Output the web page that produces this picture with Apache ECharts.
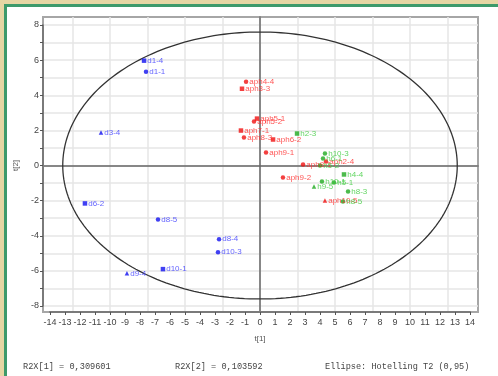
<!DOCTYPE html>
<html>
<head>
<meta charset="utf-8">
<script src="https://cdn.jsdelivr.net/npm/echarts@6/dist/echarts.min.js"></script>
<style>
  html, body { margin:0; padding:0; width:498px; height:376px; overflow:hidden; background:#e6d6a4; }
  #panel { position:absolute; left:4px; top:4px; right:0; bottom:0; background:#ffffff;
           border-left:3px solid #3d9a6b; border-top:3px solid #3d9a6b; }
  #chart { position:absolute; left:0; top:0; width:498px; height:376px; }
</style>
</head>
<body>
<div id="panel"></div>
<div id="chart"></div>
<script>
// ---- data ----
const blueNames = ['d1-4','d1-1','d3-4','d6-2','d8-5','d8-4','d10-3','d10-1','d9-4'];
const blueX = [-7.73,-7.6,-10.6,-11.67,-6.8,-2.73,-2.8,-6.47,-8.87];
const blueY = [5.97,5.34,1.88,-2.16,-3.07,-4.2,-4.94,-5.9,-6.14];

const redNames = ['aph4-4','aph3-3','aph5-1','aph5-2','aph7-1','aph8-3','aph6-2','aph9-1','aph8-1','aph2-4','aph9-2','aph10-5'];
const redX = [-0.93,-1.2,-0.2,-0.4,-1.27,-1.07,0.87,0.4,2.87,4.4,1.53,4.33];
const redY = [4.77,4.37,2.67,2.5,1.99,1.59,1.48,0.74,0.06,0.23,-0.68,-1.99];

const greenNames = ['h2-3','h10-3','h6-1','h5-2','h4-4','h10-1','h9-5','h5-1','h8-3','h8-5'];
const greenX = [2.47,4.33,4.2,4.0,5.6,4.13,3.6,4.93,5.87,5.53];
const greenY = [1.82,0.68,0.4,0.0,-0.51,-0.91,-1.19,-0.97,-1.48,-2.05];

const triangleNames = ['d3-4','d9-4','aph10-5','h9-5'];
const rectNames = ['d1-4','d6-2','d10-1','aph3-3','aph5-1','aph7-1','aph6-2','h2-3','h4-4'];

const xTickMin = -14, xTickMax = 14;
const yTickMin = -8, yTickMax = 8;

const ELLIPSE_A = 13.15, ELLIPSE_B = 7.6; // Hotelling T2 (0.95) semi-axes

const footer1 = 'R2X[1] = 0,309601';
const footer2 = 'R2X[2] = 0,103592';
const footer3 = 'Ellipse: Hotelling T2 (0,95)';

// ---- build ----
function pts(names, xs, ys) {
  return names.map((n, i) => ({
    name: n,
    value: [xs[i], ys[i]],
    symbol: triangleNames.includes(n) ? 'triangle' : (rectNames.includes(n) ? 'rect' : 'circle')
  }));
}
const ellipse = [];
for (let i = 0; i <= 240; i++) {
  const t = i / 240 * Math.PI * 2;
  ellipse.push([ELLIPSE_A * Math.cos(t), ELLIPSE_B * Math.sin(t)]);
}

function scatter(name, data, color, labelColor) {
  return {
    type: 'scatter', name, xAxisIndex: 1, yAxisIndex: 1, data,
    symbolSize: 4.5, itemStyle: { color }, z: 5,
    label: { show: true, position: 'right', distance: 1, formatter: '{b}',
             fontFamily: 'Liberation Sans, Arial, sans-serif', fontSize: 8, color: labelColor }
  };
}

const FONT = 'Liberation Sans, Arial, sans-serif';
const chart = echarts.init(document.getElementById('chart'), null, { renderer: 'canvas' });
chart.setOption({
  animation: false,
  backgroundColor: 'transparent',
  title: [
    { text: footer1, left: 18, top: 357, textStyle: { fontFamily: 'Liberation Mono, monospace', fontSize: 8.6, fontWeight: 'normal', color: '#444' } },
    { text: footer2, left: 170, top: 357, textStyle: { fontFamily: 'Liberation Mono, monospace', fontSize: 8.6, fontWeight: 'normal', color: '#444' } },
    { text: footer3, left: 320, top: 357, textStyle: { fontFamily: 'Liberation Mono, monospace', fontSize: 8.6, fontWeight: 'normal', color: '#444' } }
  ],
  grid: [
    { left: 43, right: 20, top: 17, bottom: 64, show: true, borderColor: '#a6a6a6', borderWidth: 2, backgroundColor: 'transparent' },
    { left: 50, right: 28, top: 25, bottom: 70 },
    { left: 72.5, right: 50.5, top: 17, bottom: 64 },
    { left: 43, right: 20, top: 25, bottom: 70 }
  ],
  xAxis: [
    { gridIndex: 0, type: 'value', min: -14.47, max: 14.53, z: 3,
      axisLine: { show: true, onZero: true, lineStyle: { color: '#666', width: 1.5 } },
      axisTick: { show: false }, axisLabel: { show: false }, splitLine: { show: false } },
    { gridIndex: 1, type: 'value', min: xTickMin, max: xTickMax, interval: 1, position: 'bottom', offset: 6, z: 4,
      name: 't[1]', nameLocation: 'middle', nameGap: 23,
      nameTextStyle: { fontFamily: FONT, fontSize: 8, color: '#555' },
      axisLine: { show: true, onZero: false, lineStyle: { color: '#7a7a7a', width: 2 } },
      axisTick: { show: true, length: 3, lineStyle: { color: '#555' } },
      axisLabel: { fontFamily: FONT, fontSize: 9, color: '#444', margin: 6 },
      splitLine: { show: false } },
    { gridIndex: 2, type: 'value', min: -12.5, max: 12.5, interval: 2.5,
      axisLine: { show: false }, axisTick: { show: false }, axisLabel: { show: false },
      splitLine: { show: true, lineStyle: { color: '#e6e6e6', width: 1.5 } } },
    { gridIndex: 3, type: 'value', show: false, min: -1, max: 1 }
  ],
  yAxis: [
    { gridIndex: 0, type: 'value', min: -8.34, max: 8.46, z: 3,
      axisLine: { show: true, onZero: true, lineStyle: { color: '#666', width: 1.5 } },
      axisTick: { show: false }, axisLabel: { show: false }, splitLine: { show: false } },
    { gridIndex: 1, type: 'value', min: yTickMin, max: yTickMax, interval: 1, offset: 7, z: 4,
      name: 't[2]', nameLocation: 'middle', nameGap: 13, nameRotate: 90,
      nameTextStyle: { fontFamily: FONT, fontSize: 8, color: '#555' },
      axisLine: { show: true, onZero: false, lineStyle: { color: '#7a7a7a', width: 2 } },
      axisTick: { show: true, length: 3, lineStyle: { color: '#555' } },
      axisLabel: { fontFamily: FONT, fontSize: 9, color: '#444', margin: 4,
                   formatter: v => (Math.round(v) % 2 === 0 ? String(v) : '') },
      splitLine: { show: false } },
    { gridIndex: 2, type: 'value', show: false, min: -1, max: 1 },
    { gridIndex: 3, type: 'value', min: yTickMin, max: yTickMax, interval: 1,
      axisLine: { show: false }, axisTick: { show: false }, axisLabel: { show: false },
      splitLine: { show: true, lineStyle: { color: '#e6e6e6', width: 1.5 } } }
  ],
  series: [
    { type: 'line', xAxisIndex: 1, yAxisIndex: 1, data: ellipse, showSymbol: false, symbol: 'none',
      lineStyle: { color: '#333', width: 1.3 }, z: 4, silent: true },
    scatter('blue', pts(blueNames, blueX, blueY), '#1010f0', '#3a3aff'),
    scatter('red', pts(redNames, redX, redY), '#f01010', '#ff2a2a'),
    scatter('green', pts(greenNames, greenX, greenY), '#1faa1f', '#3ccc3c')
  ]
});
</script>
</body>
</html>
